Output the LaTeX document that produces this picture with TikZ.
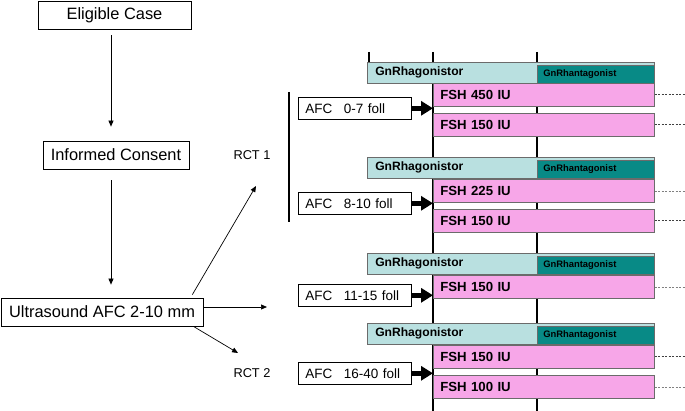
\documentclass[tikz,border=0pt]{standalone}
\usepackage{fontspec}
\setmainfont{Liberation Sans}
\usepackage{xcolor}
\usetikzlibrary{arrows.meta}

\definecolor{agocol}{HTML}{B9E0E0}
\definecolor{antcol}{HTML}{088A86}
\definecolor{fshcol}{HTML}{F7A6E8}
\definecolor{barline}{HTML}{6B6B6B}

\begin{document}
\begin{tikzpicture}[x=1pt,y=-1pt,
    flowbox/.style={draw,line width=0.7pt,inner sep=0pt,minimum height=28pt,font=\fontsize{16.4}{18}\selectfont},
    flowarrow/.style={-{Triangle[length=6pt,width=5pt]},line width=0.7pt},
    rctlabel/.style={font=\fontsize{12.8}{14}\selectfont},
    afcbox/.style={draw,line width=0.6pt,anchor=north west,align=left,text width=99pt,inner xsep=7pt,inner ysep=0pt,minimum height=22pt,font=\fontsize{13.5}{15}\selectfont},
    agobar/.style={draw=barline,fill=agocol,line width=0.6pt,anchor=north west,align=left,text width=271pt,inner xsep=8pt,inner ysep=0pt,minimum height=21pt,font=\bfseries\fontsize{12.1}{14}\selectfont},
    antbar/.style={draw=barline,fill=antcol,line width=0.6pt,anchor=north west,align=left,text width=105pt,inner xsep=6pt,inner ysep=0pt,minimum height=18pt,font=\bfseries\fontsize{9.4}{11}\selectfont},
    fshbar/.style={draw=barline,fill=fshcol,line width=0.6pt,anchor=north west,align=left,text width=207pt,inner xsep=7pt,inner ysep=0pt,minimum height=23pt,font=\bfseries\fontsize{13.2}{15}\selectfont},
    tickline/.style={line width=2.5pt},
    thickarrow/.style={-{Triangle[length=12pt,width=14pt]},line width=5pt},
    dashline/.style={line width=0.7pt,black!75,dash pattern=on 2pt off 1.5pt}]
    \useasboundingbox (0,0) rectangle (685,411);

    % left column
    \node[flowbox,minimum width=153pt] (elig) at (114.5,15) {Eligible Case};
    \node[flowbox,minimum width=146pt] (inf) at (116,155) {Informed Consent};
    \node[flowbox,minimum width=202pt] (us) at (102,312) {Ultrasound AFC 2-10 mm};
    \coordinate (ax) at (111,0);
    \draw[flowarrow,shorten <=6pt,shorten >=14pt] (elig.south -| ax) -- (inf.north -| ax);
    \draw[flowarrow,shorten <=11pt,shorten >=13pt] (inf.south -| ax) -- (us.north -| ax);

    \coordinate (rcta) at (256,186);
    \coordinate (rctm) at (267,307);
    \coordinate (rctb) at (238,353);
    \draw[flowarrow] ([xshift=-11pt,yshift=3pt]us.north east) -- (rcta);
    \draw[flowarrow] ([yshift=5pt]us.east) -- (rctm);
    \draw[flowarrow] ([xshift=-10pt]us.south east) -- (rctb);
    \node[rctlabel] (rct1) at (252,155) {RCT 1};
    \node[rctlabel] (rct2) at (252,373) {RCT 2};

    \coordinate (bara) at (289,92);
    \coordinate (barb) at (289,222);
    \draw[line width=2pt] (bara) -- (barb);

    % time lines
    \coordinate (t1) at (369,52);
    \coordinate (t2) at (433,52);
    \coordinate (t3) at (537,52);
    \coordinate (rim) at (685,411);
    \draw[tickline] (t1) -- ++(0,11);
    \draw[tickline] (t2) -- (t2 |- rim);
    \draw[tickline] (t3) -- (t3 |- rim);

    % group 1
    \node[agobar] (ago1) at (367,62) {GnRhagonistor};
    \node[antbar] (ant1) at (537,65) {GnRhantagonist};
    \node[fshbar] (fsh1a) at (433,83) {FSH 450 IU};
    \node[fshbar] (fsh1b) at (433,113) {FSH 150 IU};
    \node[afcbox] (afc1) at (298,97) {AFC\hspace{11.5pt}0-7 foll};
    \draw[thickarrow] (afc1.east) -- (afc1.east -| t2);
    \draw[dashline] (fsh1a.east) -- (fsh1a.east -| rim);
    \draw[dashline] (fsh1b.east) -- (fsh1b.east -| rim);

    % group 2
    \node[agobar] (ago2) at (367,157) {GnRhagonistor};
    \node[antbar] (ant2) at (537,160) {GnRhantagonist};
    \node[fshbar] (fsh2a) at (433,179) {FSH 225 IU};
    \node[fshbar] (fsh2b) at (433,209) {FSH 150 IU};
    \node[afcbox] (afc2) at (298,192) {AFC\hspace{11.5pt}8-10 foll};
    \draw[thickarrow] (afc2.east) -- (afc2.east -| t2);
    \draw[dashline,black!50,line width=0.5pt] (fsh2a.east) -- (fsh2a.east -| rim);
    \draw[dashline] (fsh2b.east) -- (fsh2b.east -| rim);

    % group 3
    \node[agobar] (ago3) at (367,253) {GnRhagonistor};
    \node[antbar] (ant3) at (537,256) {GnRhantagonist};
    \node[fshbar] (fsh3a) at (433,275) {FSH 150 IU};
    \node[afcbox] (afc3) at (298,284) {AFC\hspace{11.5pt}11-15 foll};
    \draw[thickarrow] (afc3.east) -- (afc3.east -| t2);
    \draw[dashline,black!50,line width=0.5pt] (fsh3a.east) -- (fsh3a.east -| rim);

    % group 4
    \node[agobar] (ago4) at (367,323) {GnRhagonistor};
    \node[antbar] (ant4) at (537,326) {GnRhantagonist};
    \node[fshbar] (fsh4a) at (433,345) {FSH 150 IU};
    \node[fshbar] (fsh4b) at (433,375) {FSH 100 IU};
    \node[afcbox] (afc4) at (298,362) {AFC\hspace{11.5pt}16-40 foll};
    \draw[thickarrow] (afc4.east) -- (afc4.east -| t2);
    \draw[dashline] (fsh4a.east) -- (fsh4a.east -| rim);
    \draw[dashline,black!50,line width=0.5pt] (fsh4b.east) -- (fsh4b.east -| rim);
\end{tikzpicture}
\end{document}
